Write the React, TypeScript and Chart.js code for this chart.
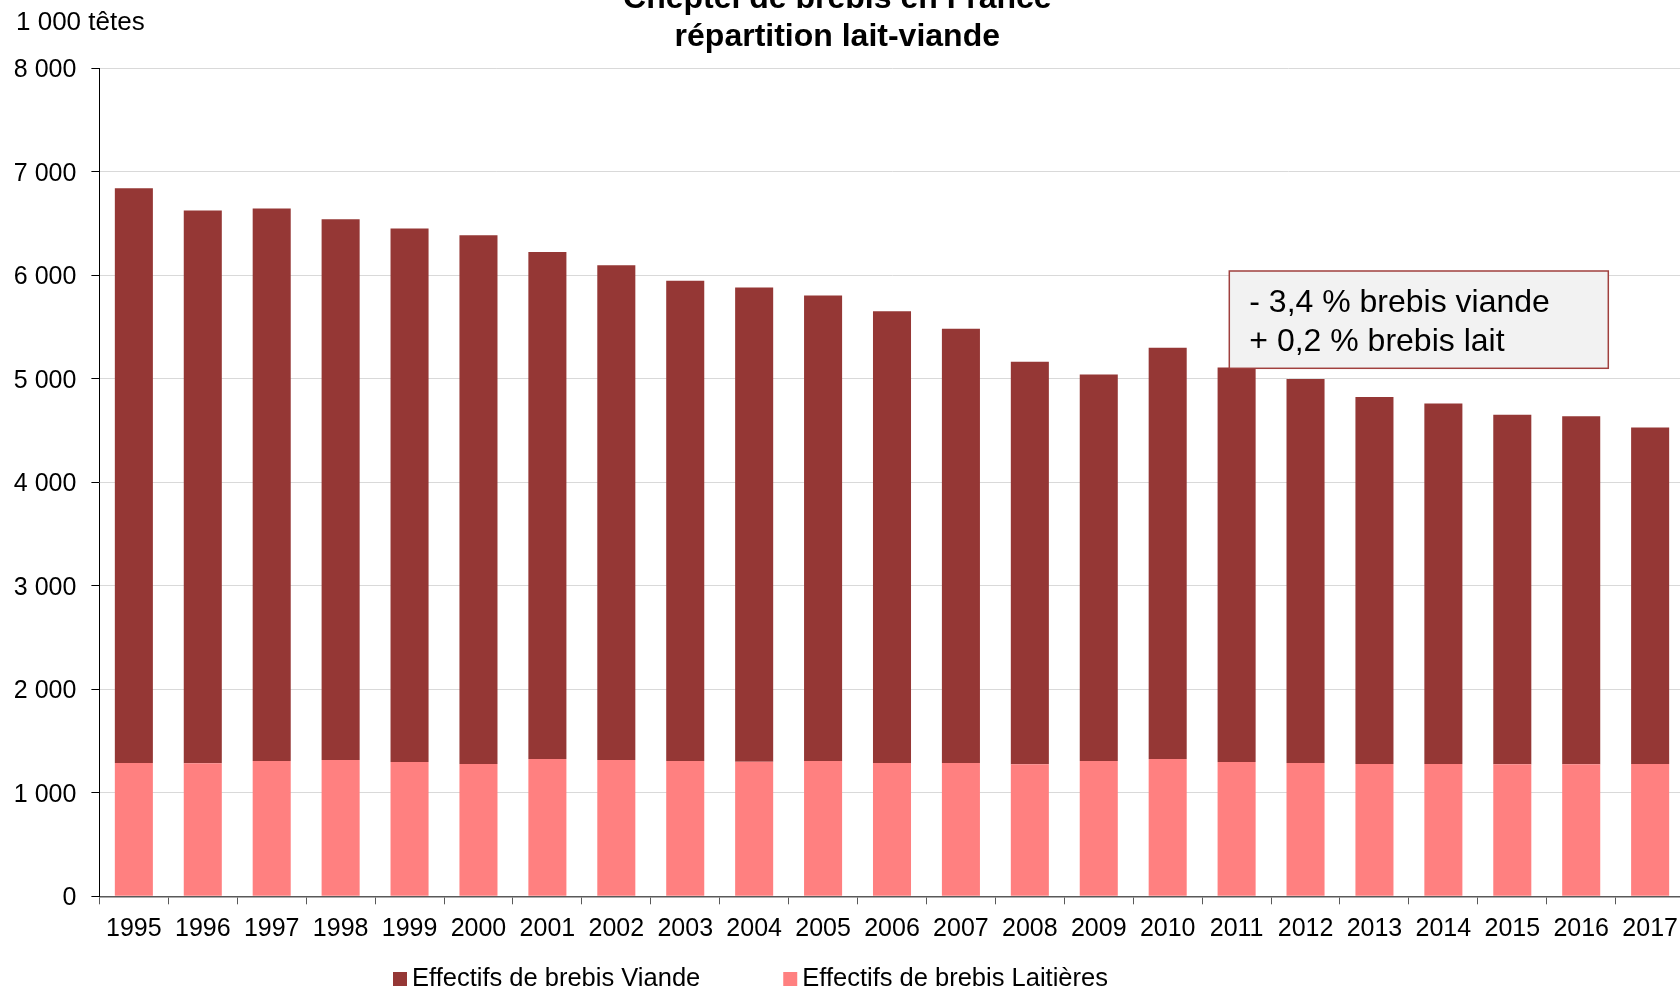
import React, { useEffect, useRef } from "react";
import { Chart, registerables } from "chart.js";

Chart.register(...registerables);

const years = [
  "1995", "1996", "1997", "1998", "1999", "2000", "2001", "2002", "2003", "2004", "2005", "2006",
  "2007", "2008", "2009", "2010", "2011", "2012", "2013", "2014", "2015", "2016", "2017",
];
const brebisLaitieres = [
  1288, 1285, 1307, 1317, 1298, 1278, 1327, 1317, 1307, 1301, 1307, 1288,
  1288, 1275, 1307, 1327, 1298, 1288, 1278, 1278, 1275, 1275, 1278,
];
const brebisViande = [
  5552, 5341, 5338, 5225, 5154, 5109, 4899, 4780, 4641, 4580, 4499, 4364,
  4196, 3890, 3735, 3973, 3812, 3709, 3545, 3483, 3377, 3364, 3251,
];
const seriesLaitieres = "Effectifs de brebis Laitières";
const seriesViande = "Effectifs de brebis Viande";
const titleLines = ["Cheptel de brebis en France", "répartition lait-viande"];
const unitLabel = "1 000 têtes";
const noteLines = ["- 3,4 % brebis viande", "+ 0,2 % brebis lait"];
const yMin = 0;
const yMax = 8000;
const yStep = 1000;

const colorViande = "#953735";
const colorLait = "#FF8080";
const FONT = "'Liberation Sans', Arial, Helvetica, sans-serif";

function fmt(v: number): string {
  return String(Math.round(v)).replace(/\B(?=(\d{3})+(?!\d))/g, " ");
}

export default function App() {
  const ref = useRef<HTMLCanvasElement>(null);

  useEffect(() => {
    const canvas = ref.current;
    if (!canvas) return;

    const overlay = {
      id: "overlay",
      afterDatasetsDraw(chart: any) {
        const { ctx, chartArea } = chart;
        // annotation box
        const bx = chartArea.left + 1129.9;
        const by = chartArea.top + 202.7;
        const bw = 379;
        const bh = 97.3;
        ctx.save();
        ctx.fillStyle = "#F2F2F2";
        ctx.fillRect(bx, by, bw, bh);
        ctx.strokeStyle = "#A0403E";
        ctx.lineWidth = 1.5;
        ctx.strokeRect(bx, by, bw, bh);
        ctx.fillStyle = "#000";
        ctx.font = `32px ${FONT}`;
        ctx.textBaseline = "middle";
        ctx.textAlign = "left";
        ctx.fillText(noteLines[0], bx + 20, by + 32.5);
        ctx.fillText(noteLines[1], bx + 20, by + 71.5);
        ctx.restore();
      },
      afterDraw(chart: any) {
        const { ctx } = chart;
        ctx.save();
        // unit label
        ctx.fillStyle = "#000";
        ctx.font = `26px ${FONT}`;
        ctx.textBaseline = "middle";
        ctx.textAlign = "left";
        ctx.fillText(unitLabel, 16, 63);
        // legend (Viande first, then Laitières)
        const items = [chart.data.datasets[1], chart.data.datasets[0]];
        ctx.font = `25.5px ${FONT}`;
        let x = 393;
        const cy = 1019;
        items.forEach((ds: any) => {
          ctx.fillStyle = ds.backgroundColor;
          ctx.fillRect(x, cy - 7, 14, 14);
          ctx.fillStyle = "#000";
          ctx.fillText(ds.label, x + 19, cy);
          x += 19 + ctx.measureText(ds.label).width + 83;
        });
        ctx.restore();
      },
    };

    const chart = new Chart(canvas, {
      type: "bar",
      data: {
        labels: years,
        datasets: [
          {
            label: seriesLaitieres,
            data: brebisLaitieres,
            backgroundColor: colorLait,
            borderWidth: 0,
            barPercentage: 0.552,
            categoryPercentage: 1,
          },
          {
            label: seriesViande,
            data: brebisViande,
            backgroundColor: colorViande,
            borderWidth: 0,
            barPercentage: 0.552,
            categoryPercentage: 1,
          },
        ],
      },
      options: {
        responsive: false,
        animation: false,
        devicePixelRatio: 1,
        layout: { padding: { left: -10, right: 15.4, top: 0, bottom: 53.7 } },
        plugins: {
          legend: { display: false },
          tooltip: { enabled: false },
          title: {
            display: true,
            text: titleLines,
            color: "#000",
            font: { family: FONT, size: 32, weight: "bold", lineHeight: 1.2 },
            padding: { top: 19.8, bottom: 11.7 },
          },
        },
        scales: {
          x: {
            stacked: true,
            offset: true,
            grid: {
              display: true,
              offset: true,
              drawOnChartArea: false,
              drawTicks: true,
              tickLength: 8,
              tickColor: "#595959",
              tickWidth: 1,
            },
            border: { display: true, color: "#595959", width: 1.5 },
            ticks: {
              color: "#000",
              font: { family: FONT, size: 25 },
              padding: 10,
              maxRotation: 0,
              autoSkip: false,
            },
            afterFit(scale: any) {
              scale.height = 50;
            },
          },
          y: {
            stacked: true,
            min: yMin,
            max: yMax,
            grid: {
              color: "#D9D9D9",
              lineWidth: 1,
              drawTicks: true,
              tickLength: 8,
              tickColor: "#000",
            },
            border: { display: true, color: "#000", width: 1 },
            ticks: {
              stepSize: yStep,
              color: "#000",
              font: { family: FONT, size: 25 },
              padding: 15,
              labelOffset: 2,
              callback: (v: any) => fmt(Number(v)),
            },
            afterFit(scale: any) {
              scale.width = 109.4;
            },
          },
        },
      },
      plugins: [overlay],
    });

    return () => chart.destroy();
  }, []);

  return (
    <div
      style={{
        position: "fixed",
        left: 0,
        top: 0,
        width: 1680,
        height: 990,
        overflow: "hidden",
        background: "#fff",
      }}
    >
      <canvas
        ref={ref}
        width={1700}
        height={1040}
        style={{ position: "absolute", left: 0, top: -40, width: 1700, height: 1040 }}
      />
    </div>
  );
}
